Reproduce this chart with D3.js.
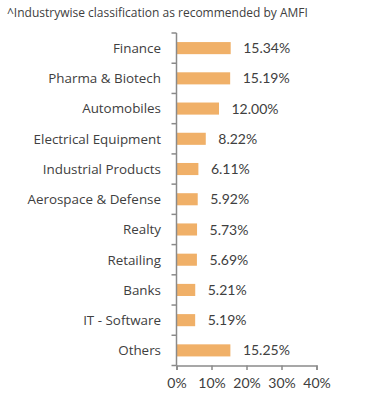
<!DOCTYPE html>
<html><head><meta charset="utf-8">
<script src="https://cdn.jsdelivr.net/npm/d3@7/dist/d3.min.js"></script>
<style>
html,body{margin:0;padding:0;background:#fff;}
svg{display:block;}
</style></head>
<body>
<svg id="chart" width="366" height="405"></svg>
<script>
const title = "^Industrywise classification as recommended by AMFI";
const categories = ["Finance","Pharma & Biotech","Automobiles","Electrical Equipment","Industrial Products","Aerospace & Defense","Realty","Retailing","Banks","IT - Software","Others"];
const values = [15.34,15.19,12.00,8.22,6.11,5.92,5.73,5.69,5.21,5.19,15.25];
const xTicks = [0,10,20,30,40];

const svg = d3.select("#chart");
const margin = {left:176.5, right:49.5, top:33, bottom:39.5};
const W = 366, H = 405;

svg.append("text").attr("x",7).attr("y",17)
  .attr("font-family","'Open Sans', sans-serif").attr("font-size",12)
  .attr("fill","#404040").text(title);

const x = d3.scaleLinear().domain([0,40]).range([margin.left, W-margin.right]);
const y = d3.scaleBand().domain(categories).range([margin.top, H-margin.bottom]).paddingInner(0.6).paddingOuter(0.3);

const data = categories.map((c,i)=>({c, v:values[i]}));

svg.append("g").selectAll("rect").data(data).join("rect")
  .attr("x", x(0)+0.5).attr("y", d=>y(d.c))
  .attr("width", d=>x(d.v)-x(0)).attr("height", y.bandwidth())
  .attr("fill","#F0B068");

svg.append("g").selectAll("text").data(data).join("text")
  .attr("x", d=>x(d.v)+13).attr("y", d=>y(d.c)+y.bandwidth()/2)
  .attr("dy","0.36em")
  .attr("font-family","Lato, sans-serif").attr("font-size",14)
  .attr("fill","#404040").text(d=>d.v.toFixed(2)+"%");

// y axis with ticks between categories
const yAxisG = svg.append("g");
const yTop = margin.top, yBot = H-margin.bottom;
yAxisG.append("line").attr("x1",x(0)).attr("x2",x(0)).attr("y1",yTop).attr("y2",yBot)
  .attr("stroke","#8a8a8a").attr("stroke-width",1.5);
const bounds = d3.range(categories.length+1).map(i=>yTop + i*(yBot-yTop)/categories.length);
yAxisG.selectAll("line.t").data(bounds).join("line").attr("class","t")
  .attr("x1",x(0)-5).attr("x2",x(0)).attr("y1",d=>d).attr("y2",d=>d)
  .attr("stroke","#8a8a8a").attr("stroke-width",1.5);
yAxisG.selectAll("text").data(categories).join("text")
  .attr("x", x(0)-15.5).attr("y", d=>y(d)+y.bandwidth()/2).attr("dy","0.36em")
  .attr("text-anchor","end")
  .attr("font-family","'Open Sans', sans-serif").attr("font-size",13.4)
  .attr("fill","#404040").text(d=>d);

// x axis
const xAxis = d3.axisBottom(x).tickValues(xTicks).tickFormat(d=>d+"%").tickSize(4.5).tickPadding(8);
const xg = svg.append("g").attr("transform",`translate(0,${yBot})`).call(xAxis);
xg.select(".domain").attr("stroke","#8a8a8a").attr("stroke-width",1.5);
xg.selectAll(".tick line").attr("stroke","#8a8a8a").attr("stroke-width",1.5);
xg.selectAll(".tick text").attr("font-family","Lato, sans-serif").attr("font-size",14).attr("fill","#404040");
</script>
</body></html>
